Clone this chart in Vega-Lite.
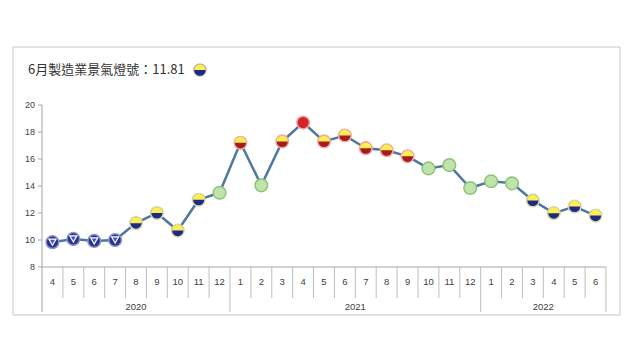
{
  "$schema": "https://vega.github.io/schema/vega-lite/v6.json",
  "width": 564,
  "height": 162,
  "autosize": "none",
  "padding": {"left": 42, "top": 105, "right": 34, "bottom": 93},
  "background": "white",
  "config": {
    "view": {"stroke": null},
    "font": "Liberation Sans"
  },
  "title": {
    "text": "6月製造業景氣燈號：11.81",
    "anchor": "start",
    "frame": "group",
    "offset": -36,
    "baseline": "middle",
    "dx": -14,
    "font": "Noto Sans CJK TC",
    "fontSize": 13,
    "fontWeight": "normal",
    "color": "#333333"
  },
  "datasets": {
    "d": [
      {"i": 0, "year": "2020", "month": "4", "v": 9.84, "type": "blue"},
      {"i": 1, "year": "2020", "month": "5", "v": 10.08, "type": "blue"},
      {"i": 2, "year": "2020", "month": "6", "v": 9.93, "type": "blue"},
      {"i": 3, "year": "2020", "month": "7", "v": 10.0, "type": "blue"},
      {"i": 4, "year": "2020", "month": "8", "v": 11.25, "type": "yb"},
      {"i": 5, "year": "2020", "month": "9", "v": 12.0, "type": "yb"},
      {"i": 6, "year": "2020", "month": "10", "v": 10.7, "type": "yb"},
      {"i": 7, "year": "2020", "month": "11", "v": 12.98, "type": "yb"},
      {"i": 8, "year": "2020", "month": "12", "v": 13.5, "type": "green"},
      {"i": 9, "year": "2021", "month": "1", "v": 17.2, "type": "yr"},
      {"i": 10, "year": "2021", "month": "2", "v": 14.05, "type": "green"},
      {"i": 11, "year": "2021", "month": "3", "v": 17.3, "type": "yr"},
      {"i": 12, "year": "2021", "month": "4", "v": 18.7, "type": "red"},
      {"i": 13, "year": "2021", "month": "5", "v": 17.3, "type": "yr"},
      {"i": 14, "year": "2021", "month": "6", "v": 17.74, "type": "yr"},
      {"i": 15, "year": "2021", "month": "7", "v": 16.8, "type": "yr"},
      {"i": 16, "year": "2021", "month": "8", "v": 16.65, "type": "yr"},
      {"i": 17, "year": "2021", "month": "9", "v": 16.2, "type": "yr"},
      {"i": 18, "year": "2021", "month": "10", "v": 15.3, "type": "green"},
      {"i": 19, "year": "2021", "month": "11", "v": 15.55, "type": "green"},
      {"i": 20, "year": "2021", "month": "12", "v": 13.85, "type": "green"},
      {"i": 21, "year": "2022", "month": "1", "v": 14.35, "type": "green"},
      {"i": 22, "year": "2022", "month": "2", "v": 14.2, "type": "green"},
      {"i": 23, "year": "2022", "month": "3", "v": 12.93, "type": "yb"},
      {"i": 24, "year": "2022", "month": "4", "v": 11.99, "type": "yb"},
      {"i": 25, "year": "2022", "month": "5", "v": 12.48, "type": "yb"},
      {"i": 26, "year": "2022", "month": "6", "v": 11.81, "type": "yb"}
    ],
    "yt": [{"t": 8}, {"t": 10}, {"t": 12}, {"t": 14}, {"t": 16}, {"t": 18}, {"t": 20}]
  },
  "data": {"name": "d"},
  "layer": [
    {
      "mark": {"type": "line", "color": "#50779c", "strokeWidth": 2.5},
      "encoding": {
        "x": {"field": "i", "type": "quantitative", "scale": {"domain": [-0.5, 26.5], "nice": false, "zero": false}, "axis": null},
        "y": {"field": "v", "type": "quantitative", "scale": {"domain": [8, 20], "nice": false, "zero": false}, "axis": null}
      }
    },
    {
      "mark": {"type": "rect", "fill": null, "filled": false, "stroke": "#c8c8c8", "strokeWidth": 1},
      "transform": [{"filter": "datum.i == 0"}],
      "encoding": {
        "x": {"datum": -1.888, "type": "quantitative", "axis": null},
        "x2": {"datum": 27.17},
        "y": {"datum": 4.444, "type": "quantitative", "axis": null},
        "y2": {"datum": 24.296}
      }
    },
    {
      "data": {"name": "yt"},
      "mark": {"type": "rule", "color": "#a6a6a6", "strokeWidth": 1, "xOffset": -4},
      "encoding": {
        "x": {"datum": -0.5, "type": "quantitative", "axis": null},
        "x2": {"datum": -0.5},
        "y": {"field": "t", "type": "quantitative", "axis": null}
      }
    },
    {
      "data": {"name": "yt"},
      "mark": {"type": "text", "fontSize": 9, "color": "#404040", "align": "right", "baseline": "middle", "xOffset": -7},
      "encoding": {
        "x": {"datum": -0.5, "type": "quantitative", "axis": null},
        "y": {"field": "t", "type": "quantitative", "axis": null},
        "text": {"field": "t", "type": "quantitative"}
      }
    },
    {
      "mark": {"type": "rule", "color": "#a6a6a6", "strokeWidth": 1, "xOffset": -10.45},
      "transform": [{"filter": "datum.i == 0"}],
      "encoding": {
        "x": {"field": "i", "type": "quantitative", "axis": null},
        "y": {"datum": 4.667, "type": "quantitative", "axis": null},
        "y2": {"datum": 20}
      }
    },
    {
      "mark": {"type": "rule", "color": "#bfbfbf", "strokeWidth": 1, "xOffset": -10.45},
      "transform": [{"filter": "datum.month != '1' && datum.i != 0"}],
      "encoding": {
        "x": {"field": "i", "type": "quantitative", "axis": null},
        "y": {"datum": 8, "type": "quantitative", "axis": null},
        "y2": {"datum": 5.7}
      }
    },
    {
      "mark": {"type": "rule", "color": "#bfbfbf", "strokeWidth": 1, "xOffset": -10.45},
      "transform": [{"filter": "datum.month == '1'"}],
      "encoding": {
        "x": {"field": "i", "type": "quantitative", "axis": null},
        "y": {"datum": 8, "type": "quantitative", "axis": null},
        "y2": {"datum": 4.667}
      }
    },
    {
      "mark": {"type": "rule", "color": "#bfbfbf", "strokeWidth": 1, "xOffset": 10.45},
      "transform": [{"filter": "datum.i == 26"}],
      "encoding": {
        "x": {"field": "i", "type": "quantitative", "axis": null},
        "y": {"datum": 8, "type": "quantitative", "axis": null},
        "y2": {"datum": 4.667}
      }
    },
    {
      "mark": {"type": "rule", "color": "#a6a6a6", "strokeWidth": 1, "xOffset": -10.45, "x2Offset": 10.45},
      "encoding": {
        "x": {"aggregate": "min", "field": "i", "type": "quantitative", "axis": null},
        "x2": {"aggregate": "max", "field": "i"},
        "y": {"datum": 8, "type": "quantitative", "axis": null}
      }
    },
    {
      "mark": {"type": "text", "fontSize": 9.5, "color": "#404040", "baseline": "middle", "align": "center"},
      "encoding": {
        "x": {"field": "i", "type": "quantitative", "axis": null},
        "y": {"datum": 6.889, "type": "quantitative", "axis": null},
        "text": {"field": "month", "type": "nominal"}
      }
    },
    {
      "mark": {"type": "text", "fontSize": 9.5, "color": "#404040", "baseline": "middle", "align": "center"},
      "encoding": {
        "x": {"aggregate": "mean", "field": "i", "type": "quantitative", "axis": null},
        "y": {"datum": 5.06, "type": "quantitative", "axis": null},
        "text": {"field": "year", "type": "nominal"}
      }
    },
    {
      "mark": {"type": "point", "shape": "circle", "filled": true, "strokeWidth": 1.5, "opacity": 1},
      "encoding": {
        "x": {"field": "i", "type": "quantitative", "axis": null},
        "y": {"field": "v", "type": "quantitative", "axis": null},
        "size": {"field": "type", "type": "nominal", "legend": null, "scale": {"domain": ["blue", "yb", "yr", "red", "green"], "range": [160, 160, 165, 175, 185]}},
        "fill": {"field": "type", "type": "nominal", "legend": null, "scale": {"domain": ["blue", "yb", "yr", "red", "green"], "range": ["#26348f", "#1f2a86", "#a51c1c", "#d22525", "#bfe3aa"]}},
        "stroke": {"field": "type", "type": "nominal", "legend": null, "scale": {"domain": ["blue", "yb", "yr", "red", "green"], "range": ["#8a93c8", "#d6d6a8", "#f4aaaa", "#f2a8a8", "#8cc47a"]}}
      }
    },
    {
      "mark": {"type": "point", "shape": "M -1 0 A 1 1 0 0 1 1 0 Z", "filled": true, "fill": "#fcef55", "size": 135, "strokeWidth": 0, "opacity": 1},
      "transform": [{"filter": "datum.type == 'yb' || datum.type == 'yr'"}],
      "encoding": {
        "x": {"field": "i", "type": "quantitative", "axis": null},
        "y": {"field": "v", "type": "quantitative", "axis": null}
      }
    },
    {
      "mark": {"type": "point", "shape": "triangle-down", "filled": true, "fill": "#4356b8", "stroke": "white", "strokeWidth": 1.2, "size": 50, "opacity": 1},
      "transform": [{"filter": "datum.type == 'blue'"}],
      "encoding": {
        "x": {"field": "i", "type": "quantitative", "axis": null},
        "y": {"field": "v", "type": "quantitative", "axis": null}
      }
    },
    {
      "mark": {"type": "point", "shape": "circle", "filled": true, "fill": "#1f2a86", "stroke": "#d6d6a8", "strokeWidth": 1, "size": 160, "opacity": 1},
      "transform": [{"filter": "datum.i == 26"}],
      "encoding": {
        "x": {"datum": 7.06, "type": "quantitative", "axis": null},
        "y": {"datum": 22.59, "type": "quantitative", "axis": null}
      }
    },
    {
      "mark": {"type": "point", "shape": "M -1 0 A 1 1 0 0 1 1 0 Z", "filled": true, "fill": "#fcef55", "size": 135, "strokeWidth": 0, "opacity": 1},
      "transform": [{"filter": "datum.i == 26"}],
      "encoding": {
        "x": {"datum": 7.06, "type": "quantitative", "axis": null},
        "y": {"datum": 22.59, "type": "quantitative", "axis": null}
      }
    }
  ]
}
